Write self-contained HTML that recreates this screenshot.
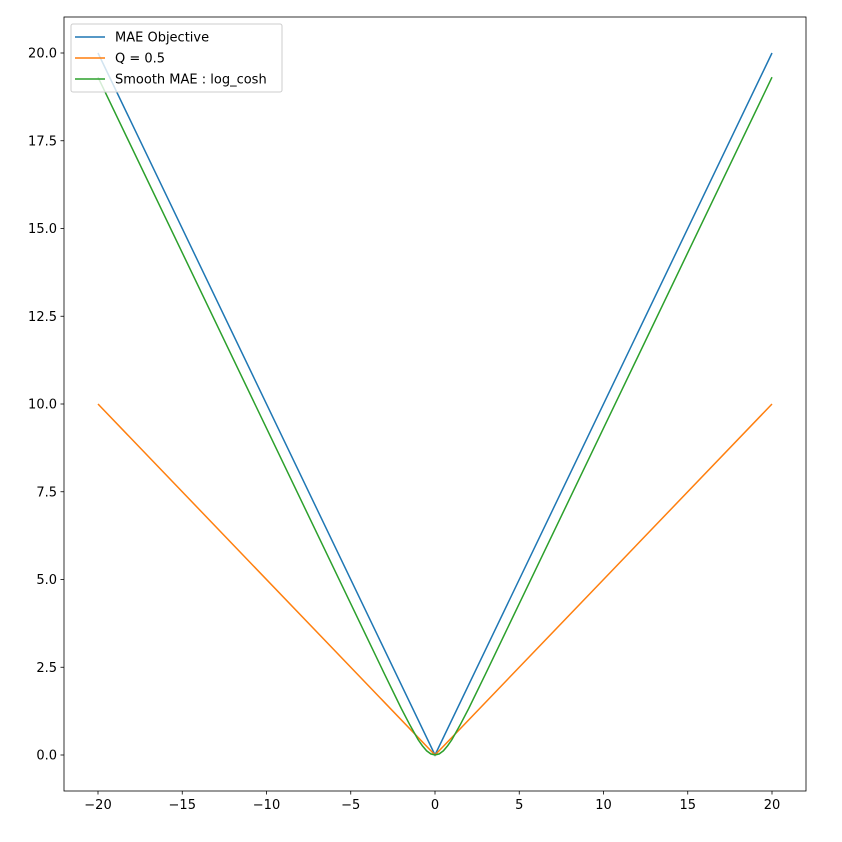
<!DOCTYPE html>
<html><head><meta charset="utf-8"><style>
body{margin:0;background:#fff}
svg text{font-family:"DejaVu Sans","Liberation Sans",sans-serif;font-size:13px;fill:#000}
</style></head><body>
<svg id="chart" width="842" height="837">
<g id="plot"></g>
</svg>
<script>
const maeX=[-20,0,20];
const maeY=[20,0,20];
const qX=[-20,0,20];
const qY=[10,0,10];
const lcX=[-20,-10,-5,-3,-2,-1.5,-1,-0.75,-0.5,-0.25,0,0.25,0.5,0.75,1,1.5,2,3,5,10,20];
const lcY=[19.31,9.31,4.31,2.31,1.325,0.864,0.434,0.264,0.120,0.031,0,0.031,0.120,0.264,0.434,0.864,1.325,2.31,4.31,9.31,19.31];
const xTicks=[-20,-15,-10,-5,0,5,10,15,20];
const yTicks=[0,2.5,5,7.5,10,12.5,15,17.5,20];
const yTickLabels=["0.0","2.5","5.0","7.5","10.0","12.5","15.0","17.5","20.0"];
const legendLabels=["MAE Objective","Q = 0.5","Smooth MAE : log_cosh"];

const L=64,R=806,T=17,B=791;
const X=v=>435+v*16.85;
const Y=v=>755-v*35.1;
const NS="http://www.w3.org/2000/svg";
const g=document.getElementById('plot');
function mk(t,a){const e=document.createElementNS(NS,t);for(const k in a)e.setAttribute(k,a[k]);g.appendChild(e);return e;}
function line(xs,ys,color,name){
  const p=mk('polyline',{points:xs.map((x,i)=>X(x)+','+Y(ys[i])).join(' '),fill:'none',stroke:color,'stroke-width':1.5});
  
  
}
line(maeX,maeY,'#1f77b4','mae-line');
line(qX,qY,'#ff7f0e','quantile-line');
line(lcX,lcY,'#2ca02c','log-cosh-line');
const fr=mk('rect',{x:L,y:T,width:R-L,height:B-T,fill:'none',stroke:'#000','stroke-width':0.8});


xTicks.forEach(v=>{
  mk('line',{x1:X(v),x2:X(v),y1:B,y2:B+3.5,stroke:'#000','stroke-width':0.8});
  const t=mk('text',{x:X(v),y:B+18,'text-anchor':'middle'});t.textContent=String(v).replace('-','\u2212');
  
  
});
yTicks.forEach((v,i)=>{
  mk('line',{x1:L-3.5,x2:L,y1:Y(v),y2:Y(v),stroke:'#000','stroke-width':0.8});
  const t=mk('text',{x:L-7,y:Y(v)+4.5,'text-anchor':'end'});t.textContent=yTickLabels[i];
  
  
});
const lg=mk('rect',{x:71,y:24,width:211,height:68,rx:2,fill:'#fff','fill-opacity':0.8,stroke:'#ccc','stroke-width':1});


const cols=['#1f77b4','#ff7f0e','#2ca02c'];
legendLabels.forEach((s,i)=>{
  const y=37+i*21;
  mk('line',{x1:75,x2:105,y1:y,y2:y,stroke:cols[i],'stroke-width':1.5});
  const t=mk('text',{x:115,y:y+4.5});t.textContent=s;
  
  
});
</script>
</body></html>
